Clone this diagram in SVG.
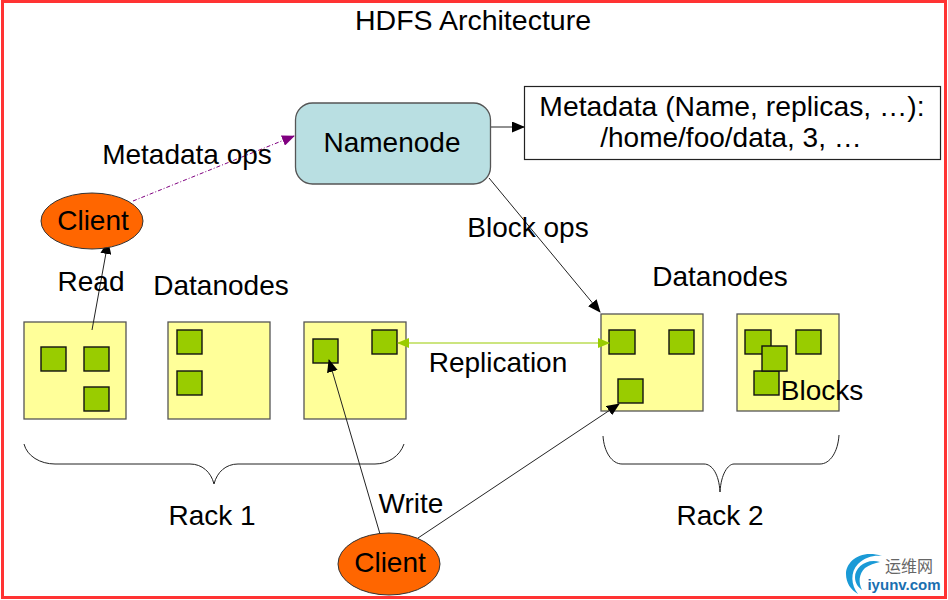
<svg xmlns="http://www.w3.org/2000/svg" width="948" height="600" viewBox="0 0 948 600">
<style>
text{font-family:"Liberation Sans",Arial,sans-serif;fill:#000;font-size:28px;text-anchor:middle}
.rack{fill:#ffff99;stroke:#555;stroke-width:1.3}
.blk{fill:#99cc00;stroke:#111;stroke-width:1.4}
.cl{fill:#ff6600;stroke:#333;stroke-width:1}
.ln{fill:none;stroke:#222;stroke-width:1}
</style>
<defs>
<marker id="ab" markerUnits="userSpaceOnUse" markerWidth="13" markerHeight="11" refX="12" refY="5.500" orient="auto"><path d="M0 0L13 5.500L0 11Z" fill="#000"/></marker>
<marker id="ap" markerUnits="userSpaceOnUse" markerWidth="13" markerHeight="11" refX="12" refY="5.500" orient="auto"><path d="M0 0L13 5.500L0 11Z" fill="#800080"/></marker>
<marker id="ag" markerUnits="userSpaceOnUse" markerWidth="12" markerHeight="10" refX="11" refY="5" orient="auto"><path d="M0 0L12 5L0 10Z" fill="#99cc00"/></marker>
<marker id="agr" markerUnits="userSpaceOnUse" markerWidth="12" markerHeight="10" refX="1" refY="5" orient="auto"><path d="M12 0L0 5L12 10Z" fill="#99cc00"/></marker>
</defs>
<rect id="frame" x="2.500" y="1.500" width="943" height="596" fill="#fff" stroke="#ff3333" stroke-width="3"/>
<text id="title" x="473" y="30" style="font-size:28.500px">HDFS Architecture</text>
<g id="rack1-a"><rect class="rack" x="24" y="322" width="102" height="97"/><rect class="blk" x="41" y="347" width="25" height="24"/><rect class="blk" x="84" y="347" width="25" height="24"/><rect class="blk" x="84" y="387" width="25" height="24"/></g>
<g id="rack1-b"><rect class="rack" x="168" y="322" width="102" height="97"/><rect class="blk" x="177" y="330" width="25" height="24"/><rect class="blk" x="177" y="371" width="25" height="24"/></g>
<g id="rack1-c"><rect class="rack" x="304" y="322" width="102" height="97"/><rect class="blk" x="313" y="339" width="25" height="24"/><rect class="blk" x="372" y="330" width="25" height="24"/></g>
<g id="rack2-a"><rect class="rack" x="601" y="314" width="102" height="97"/><rect class="blk" x="609" y="330" width="26" height="24"/><rect class="blk" x="669" y="330" width="25" height="24"/><rect class="blk" x="618" y="379" width="25" height="24"/></g>
<g id="rack2-b"><rect class="rack" x="737" y="314" width="102" height="97"/><rect class="blk" x="745" y="330" width="26" height="24"/><rect class="blk" x="796" y="330" width="25" height="24"/><rect class="blk" x="754" y="371" width="25" height="24"/><rect class="blk" x="762" y="346" width="25" height="25"/><text x="822" y="400">Blocks</text></g>
<g id="connectors">
<path class="ln" d="M92 330L108 242" marker-end="url(#ab)"/>
<path d="M133 201L294 136" fill="none" stroke="#800080" stroke-width="1" stroke-dasharray="4 2 1 2" marker-end="url(#ap)"/>
<path class="ln" d="M491 127L524 127" marker-end="url(#ab)"/>
<path class="ln" d="M489 178L600 312" marker-end="url(#ab)"/>
<path d="M398 343L609 343" fill="none" stroke="#99cc00" stroke-width="1.200" marker-start="url(#agr)" marker-end="url(#ag)"/>
<path class="ln" d="M380 534L329 360" marker-end="url(#ab)"/>
<path class="ln" d="M418 538L619 404" marker-end="url(#ab)"/>
<path class="ln" d="M24 444C27 456 40 464 55 464L190 464C202 464 211 472 214 484C217 472 226 464 238 464L375 464C388 464 400 456 404 444"/>
<path class="ln" d="M603 436C604 452 612 464 622 464L704 464C712 464 719 474 720 492C721 474 728 464 734 464L820 464C830 464 838 452 839 435"/>
</g>
<g id="namenode"><rect x="295.500" y="103" width="195" height="81" rx="17" fill="#b9dfe2" stroke="#555" stroke-width="1.300"/><text x="392" y="152">Namenode</text></g>
<g id="metadata"><rect x="524.500" y="86.500" width="416" height="73" fill="#fff" stroke="#222" stroke-width="1.200"/><text x="732" y="116" style="font-size:28.300px">Metadata (Name, replicas, …):</text><text x="731" y="147">/home/foo/data, 3, …</text></g>
<g id="client-read"><ellipse class="cl" cx="92" cy="221" rx="51" ry="28"/><text x="93" y="230">Client</text></g>
<g id="client-write"><ellipse class="cl" cx="389" cy="564" rx="51" ry="31"/><text x="390" y="572">Client</text></g>
<g id="labels">
<text x="187" y="164">Metadata ops</text>
<text x="91" y="291">Read</text>
<text x="221" y="295">Datanodes</text>
<text x="528" y="237">Block ops</text>
<text x="720" y="286">Datanodes</text>
<text x="498" y="372">Replication</text>
<text x="411" y="513">Write</text>
<text x="212" y="525">Rack 1</text>
<text x="720" y="525">Rack 2</text>
</g>
<g id="watermark">
<path d="M882 556C860 549 846 562 846 574C846 583 851 590 858 594C851 585 850 572 858 564C865 557 874 555 882 556Z" fill="#1a9ad6"/>
<path d="M880 562C866 558 855 568 855 577C855 583 858 587 862 590C858 582 859 574 865 568C869 565 875 563 880 562Z" fill="#1a9ad6"/>
<text x="909" y="572" style="font-size:16px;fill:#666;font-family:'Noto Sans CJK SC','Liberation Sans',sans-serif">运维网</text>
<text x="904" y="590" style="font-size:15px;font-weight:bold;fill:#1a6fb0">iyunv.com</text>
</g>
</svg>
